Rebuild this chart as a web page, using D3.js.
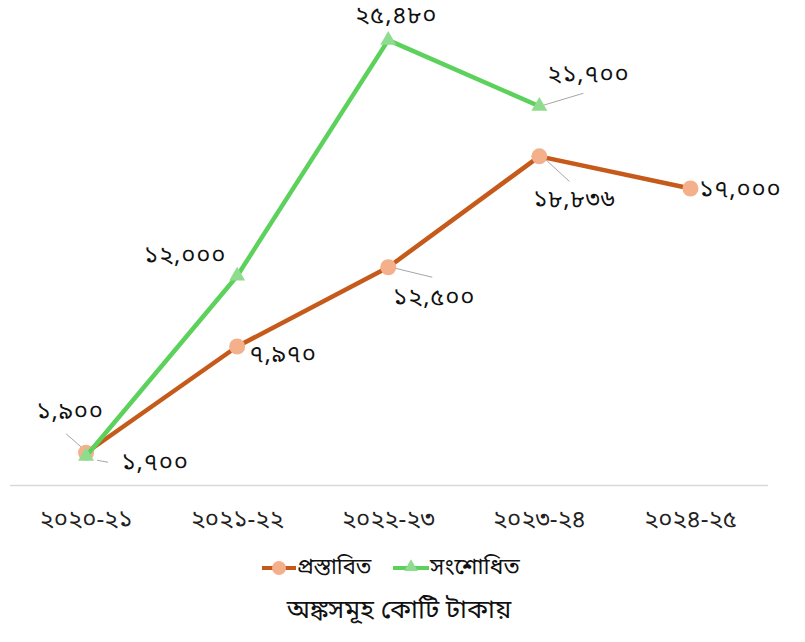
<!DOCTYPE html>
<html><head><meta charset="utf-8">
<script src="https://cdn.jsdelivr.net/npm/d3@7"></script>
<style>body{margin:0;background:#fff;}svg{display:block;}</style>
</head><body>
<svg id="c" width="805" height="642"></svg>
<script>
const categories = ["২০২০-২১","২০২১-২২","২০২২-২৩","২০২৩-২৪","২০২৪-২৫"];
const seriesNames = ["প্রস্তাবিত","সংশোধিত"];
const proposed = [1900, 7970, 12500, 18836, 17000];
const revised = [1700, 12000, 25480, 21700];
const proposedLabels = ["১,৯০০","৭,৯৭০","১২,৫০০","১৮,৮৩৬","১৭,০০০"];
const revisedLabels = ["১,৭০০","১২,০০০","২৫,৪৮০","২১,৭০০"];
const unitText = "অঙ্কসমূহ কোটি টাকায়";

// label layout (offsets from point, and leader lines)
const proposedLayout = [
  {dx:-16, dy:-40, lead:[[-20,-19],[-4,-5]]},
  {dx:46, dy:9, lead:null},
  {dx:46, dy:31, lead:[[7,1],[44,10]]},
  {dx:35, dy:44, lead:[[5,2],[30,25]]},
  {dx:50, dy:2, lead:null}
];
const revisedLayout = [
  {dx:69, dy:7, lead:[[11,4],[22,6]]},
  {dx:-52, dy:-19, lead:null},
  {dx:8, dy:-24, lead:null},
  {dx:49, dy:-31, lead:[[4,-1],[44,-13]]}
];

const svg = d3.select("#c");
const font = "'Noto Sans Bengali','Noto Serif Bengali','Lohit Bengali','FreeSerif','Noto Sans',sans-serif";

const x = d3.scaleBand().domain(categories).range([10.5, 766]).padding(0);
const y = d3.scaleLinear().domain([0, 26000]).range([486, 31]);
const cx = d => x(d) + x.bandwidth()/2;

svg.append("line").attr("x1",10).attr("x2",768).attr("y1",485.5).attr("y2",485.5)
  .attr("stroke","#d9d9d9").attr("stroke-width",1.3);

svg.selectAll(".xl").data(categories).enter().append("text")
  .attr("x", d=>cx(d)).attr("y", 521).attr("text-anchor","middle").attr("dominant-baseline","middle")
  .attr("font-family",font).attr("font-size",24).attr("font-weight",400).attr("fill","#222")
  .text(d=>d);

const orangeLine = "#c55a1b", orangeMark = "#f4b08a";
const greenLine = "#5cd15c", greenMark = "#8fdc8f";

const line = d3.line().x(d=>cx(d.c)).y(d=>y(d.v));
const pData = proposed.map((v,i)=>({c:categories[i],v,l:proposedLabels[i],lay:proposedLayout[i]}));
const rData = revised.map((v,i)=>({c:categories[i],v,l:revisedLabels[i],lay:revisedLayout[i]}));

function leaders(data){
  data.forEach(d=>{
    if(!d.lay.lead) return;
    const px=cx(d.c), py=y(d.v);
    svg.append("line").attr("x1",px+d.lay.lead[0][0]).attr("y1",py+d.lay.lead[0][1])
      .attr("x2",px+d.lay.lead[1][0]).attr("y2",py+d.lay.lead[1][1])
      .attr("stroke","#a6a6a6").attr("stroke-width",1);
  });
}
leaders(pData); leaders(rData);

svg.append("path").datum(pData).attr("d",line).attr("fill","none")
  .attr("stroke",orangeLine).attr("stroke-width",4.5).attr("stroke-linejoin","round");
svg.selectAll(".pm").data(pData).enter().append("circle")
  .attr("cx",d=>cx(d.c)).attr("cy",d=>y(d.v)).attr("r",8).attr("fill",orangeMark);

svg.append("path").datum(rData).attr("d",line).attr("fill","none")
  .attr("stroke",greenLine).attr("stroke-width",4.5).attr("stroke-linejoin","round");
const tri = d3.symbol().type(d3.symbolTriangle).size(110);
svg.selectAll(".rm").data(rData).enter().append("path")
  .attr("d",tri).attr("transform",d=>`translate(${cx(d.c)},${y(d.v)})`).attr("fill",greenMark);

function labels(data){
  svg.selectAll(null).data(data).enter().append("text")
    .attr("x",d=>cx(d.c)+d.lay.dx).attr("y",d=>y(d.v)+d.lay.dy)
    .attr("text-anchor","middle").attr("dominant-baseline","middle")
    .attr("font-family",font).attr("font-size",24).attr("font-weight",400).attr("fill","#111")
    .attr("letter-spacing",0.8)
    .text(d=>d.l);
}
labels(pData); labels(rData);

const lg = svg.append("g");
lg.append("line").attr("x1",262).attr("x2",296).attr("y1",568).attr("y2",568).attr("stroke",orangeLine).attr("stroke-width",4);
lg.append("circle").attr("cx",279).attr("cy",568).attr("r",7).attr("fill",orangeMark);
lg.append("text").attr("x",297).attr("y",568).attr("dominant-baseline","middle")
  .attr("font-family",font).attr("font-size",22).attr("font-weight",400).attr("fill","#111").text(seriesNames[0]);
lg.append("line").attr("x1",393).attr("x2",429).attr("y1",568).attr("y2",568).attr("stroke",greenLine).attr("stroke-width",4);
lg.append("path").attr("d",d3.symbol().type(d3.symbolTriangle).size(80)).attr("transform","translate(411,567)").attr("fill",greenMark);
lg.append("text").attr("x",430).attr("y",568).attr("dominant-baseline","middle")
  .attr("font-family",font).attr("font-size",23).attr("font-weight",400).attr("fill","#111").text(seriesNames[1]);

svg.append("text").attr("x",399).attr("y",611).attr("text-anchor","middle").attr("dominant-baseline","middle")
  .attr("font-family",font).attr("font-size",26).attr("font-weight",400).attr("fill","#111").text(unitText);
</script>
</body></html>
